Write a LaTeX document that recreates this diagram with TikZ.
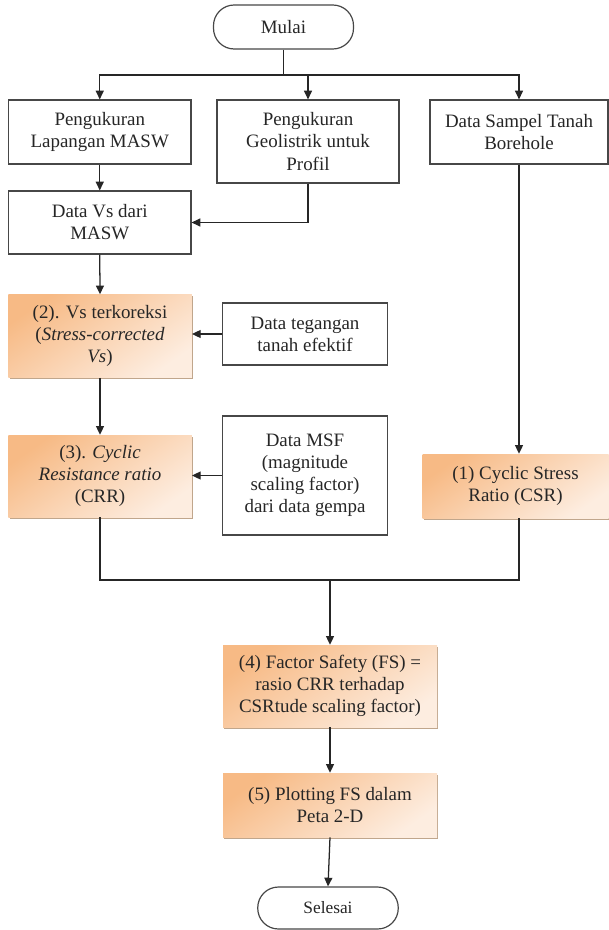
\documentclass[tikz,border=0pt]{standalone}
\usepackage{fontspec}
\setmainfont{Liberation Serif}
\usetikzlibrary{arrows.meta,shadows}
\definecolor{ora}{HTML}{F7BA85}
\definecolor{orl}{HTML}{FDEDE0}
\definecolor{txt}{HTML}{262626}
\begin{document}
\begin{tikzpicture}[x=0.75pt,y=-0.75pt,
  every node/.style={text=txt, font=\fontsize{14.2pt}{16.6pt}\selectfont, align=center, inner sep=0pt},
  bx/.style={draw=black!72, line width=0.9pt, fill=white},
  term/.style={draw=black!72, line width=0.9pt, fill=white, rounded corners=15.5pt},
  obox/.style={draw=none, top color=ora, bottom color=orl, shading angle=35,
    drop shadow={shadow xshift=1.1pt, shadow yshift=-1.4pt, fill=black!55!orange, opacity=0.45}},
  ln/.style={draw=black!85, line width=0.95pt},
  arr/.style={ln, -{Triangle[length=6.5pt,width=6pt]}}]
\useasboundingbox (0,0) rectangle (609,930);

% terminals
\node[term, minimum width=140*0.75pt, minimum height=44*0.75pt] (mulai) at (283.5,27) {Mulai};
\node[term, minimum width=140.5*0.75pt, minimum height=42*0.75pt, font=\fontsize{13pt}{15pt}\selectfont] (sel) at (328,908) {Selesai};

% first row
\node[bx, minimum width=182.5*0.75pt, minimum height=64*0.75pt] (b1) at (99.75,132) {Pengukuran\\Lapangan MASW};
\node[bx, minimum width=182*0.75pt, minimum height=83*0.75pt] (b2) at (308,141.5) {Pengukuran\\Geolistrik untuk\\Profil};
\node[bx, minimum width=178*0.75pt, minimum height=64*0.75pt] (b3) at (519,132) {Data Sampel Tanah\\Borehole};

\node[bx, minimum width=182.5*0.75pt, minimum height=63*0.75pt] (dv) at (99.75,222.5) {Data Vs dari\\MASW};

% orange process boxes
\node[obox, minimum width=183.5*0.75pt, minimum height=83*0.75pt] (o2) at (100,336) {(2). Vs terkoreksi\\(\textit{Stress-corrected}\\\textit{Vs})};
\node[bx, minimum width=165*0.75pt, minimum height=62*0.75pt] (tg) at (305,334) {Data tegangan\\tanah efektif};

\node[obox, minimum width=183.5*0.75pt, minimum height=82*0.75pt] (o3) at (100,476) {(3). \textit{Cyclic}\\\textit{Resistance ratio}\\(CRR)};
\node[bx, minimum width=165*0.75pt, minimum height=119*0.75pt] (msf) at (305,475.5) {Data MSF\\(magnitude\\scaling factor)\\dari data gempa};

\node[obox, minimum width=186*0.75pt, minimum height=64*0.75pt] (csr) at (515.5,486) {(1) Cyclic Stress\\Ratio (CSR)};

\node[obox, minimum width=214*0.75pt, minimum height=82*0.75pt] (fs) at (330,686) {(4) Factor Safety (FS) =\\rasio CRR terhadap\\CSRtude scaling factor)};
\node[obox, minimum width=214*0.75pt, minimum height=64*0.75pt] (pl) at (330,805) {(5) Plotting FS dalam\\Peta 2-D};

% connectors
\coordinate (j1) at (283.5,75);
\draw[ln] (mulai.south) -- (j1);
\draw[arr] (j1) -| (b1.north);
\draw[arr] (j1) -| (b2.north);
\draw[arr] (j1) -| (b3.north);
\draw[arr] (b1.south) -- (dv.north);
\draw[arr] (b2.south) |- (dv.east);
\draw[arr] (b3.south) -- (b3.south |- csr.north);
\draw[arr] (dv.south) -- (o2.north);
\draw[arr] (tg.west) -- (tg.west -| o2.east);
\draw[arr] (o2.south) -- (o3.north);
\draw[arr] (msf.west) -- (msf.west -| o3.east);
\coordinate (j2) at (330,580);
\draw[ln] (o3.south) |- (j2) -| (b3.south |- csr.south);
\draw[arr] (j2) -- (fs.north);
\draw[arr] (fs.south) -- (pl.north);
\draw[arr] (pl.south) -- (sel.north);
\end{tikzpicture}
\end{document}
